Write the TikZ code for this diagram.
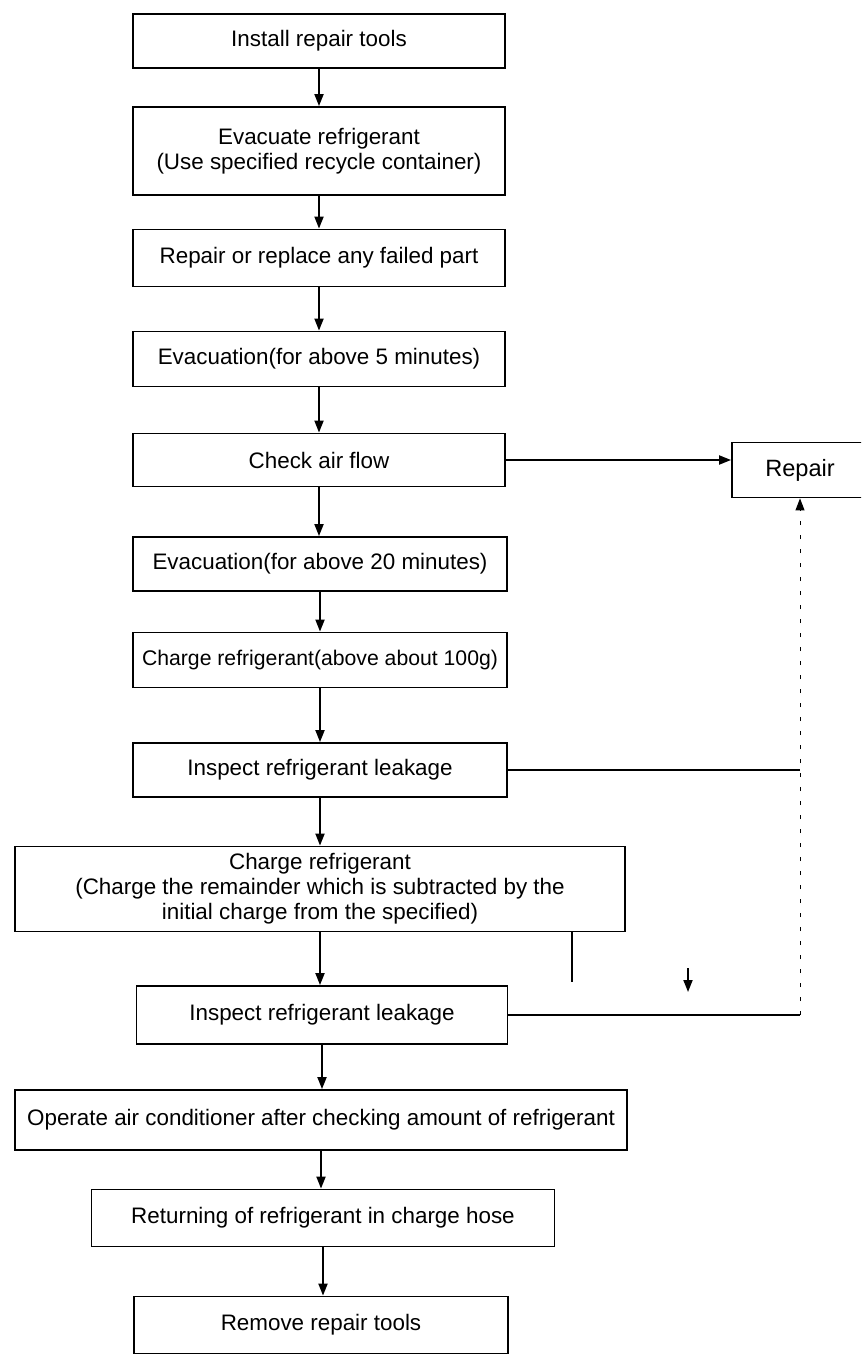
\documentclass[tikz,border=0pt]{standalone}
\usepackage{fontspec}
\setmainfont{Liberation Sans}
\usetikzlibrary{arrows.meta}
\tikzset{
  stepbox/.style={draw,align=center,inner sep=0pt,minimum width=186pt,minimum height=27.5pt},
  faint/.style={line width=0.5pt,dash pattern=on 2pt off 5pt}
}
\begin{document}
\begin{tikzpicture}[x=0.5pt,y=-0.5pt,>={Triangle[length=6pt,width=4.5pt]},line width=0.9pt,
  font=\fontsize{11.2}{12.5}\selectfont]
  \useasboundingbox (0,0) rectangle (861,1358);
  \clip (0,0) rectangle (861,1358);

  % 主流程框
  \node[stepbox,minimum height=27pt] (install) at (319,41) {Install repair tools};
  \node[stepbox,minimum height=44pt] (evac) at (319,151) {Evacuate refrigerant\\(Use specified recycle container)};
  \node[stepbox,minimum height=28.5pt] (fix) at (319,258) {Repair or replace any failed part};
  \node[stepbox] (evac5) at (319,359) {Evacuation(for above 5 minutes)};
  \node[stepbox,minimum height=26.5pt] (airflow) at (319,460) {Check air flow};
  \node[stepbox,minimum width=187pt,minimum height=27pt] (evac20) at (320,564) {Evacuation(for above 20 minutes)};
  \node[stepbox,minimum width=187pt,font=\fontsize{10.6}{12}\selectfont] (charge1) at (320,660)
    {Charge refrigerant(above about 100g)};
  \node[stepbox,minimum width=187pt,minimum height=27pt] (leak1) at (320,770) {Inspect refrigerant leakage};
  \node[stepbox,minimum width=305pt,minimum height=42.5pt] (charge2) at (320,889)
    {Charge refrigerant\\(Charge the remainder which is subtracted by the\\initial charge from the specified)};
  \node[stepbox,minimum width=185.5pt,minimum height=29pt] (leak2) at (322,1015) {Inspect refrigerant leakage};
  \node[stepbox,minimum width=306pt,minimum height=30pt] (operate) at (321,1120)
    {Operate air conditioner after checking amount of refrigerant};
  \node[stepbox,minimum width=231.5pt,minimum height=28.5pt] (hose) at (323,1218) {Returning of refrigerant in charge hose};
  \node[stepbox,minimum width=187pt,minimum height=28.5pt] (remove) at (321,1325) {Remove repair tools};

  % 右侧修理框
  \node[stepbox,minimum width=68pt] (repair) at (800,470) {\fontsize{11.8}{13}\selectfont Repair};

  % 主流程箭头
  \foreach \a/\b in {install/evac,evac/fix,fix/evac5,evac5/airflow,airflow/evac20,
    evac20/charge1,charge1/leak1,leak1/charge2,charge2/leak2,leak2/operate,operate/hose,hose/remove}
    \draw[->] (\a.south) -- (\a.south |- \b.north);

  % 检查风量后去修理
  \draw[->] (airflow.east) -- (airflow.east -| repair.west);

  % 泄漏检查返回修理
  \draw (leak1.east) -- (leak1.east -| repair.south);
  \draw (leak2.east) -- (leak2.east -| repair.south);
  \draw[faint,->] (leak2.east -| repair.south) -- (repair.south);

  % 充注框下的短线与小箭头
  \coordinate (stub) at (572,982);
  \coordinate (tick) at (688,968);
  \coordinate (tickend) at (688,992);
  \draw (charge2.south -| stub) -- (stub);
  \draw[->] (tick) -- (tickend);
\end{tikzpicture}
\end{document}
